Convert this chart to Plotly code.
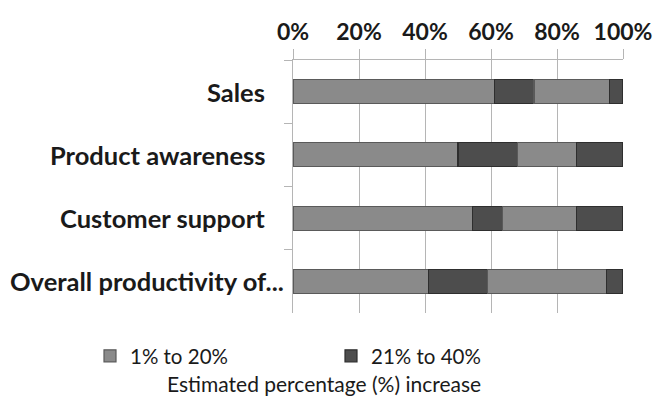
import plotly.graph_objects as go

categories = ["Sales", "Product awareness", "Customer support", "Overall productivity of..."]
series_names = ["1% to 20%", "21% to 40%", "41% to 60%", "61% to 80%"]
seg1 = [61, 50, 54.5, 41]
seg2 = [12, 18, 9, 18]
seg3 = [23, 18, 22.5, 36]
seg4 = [4, 14, 14, 5]
x_ticks = [0, 20, 40, 60, 80, 100]
x_tick_labels = ["0%", "20%", "40%", "60%", "80%", "100%"]
axis_title = "Estimated percentage (%) increase"

colors = ["#8a8a8a", "#4d4d4d", "#8a8a8a", "#4d4d4d"]
line_colors = ["#5a5a5a", "#2e2e2e", "#5a5a5a", "#2e2e2e"]
show = [True, True, False, False]

FONT = "Lato"
L, R, T, B = 293, 32, 60, 95
PW = 655 - L - R
PH = 408 - T - B

fig = go.Figure()
for name, vals, c, lc, s in zip(series_names, [seg1, seg2, seg3, seg4], colors, line_colors, show):
    fig.add_trace(go.Bar(
        y=categories, x=vals, name=name, orientation="h",
        marker=dict(color=c, line=dict(color=lc, width=1.2)),
        showlegend=s,
    ))

for cat in categories:
    right_px = 286 if cat.endswith("...") else 267
    fig.add_annotation(x=(right_px - L) / PW, xref="paper", y=cat, yref="y", text=cat,
                       showarrow=False, xanchor="right", yanchor="middle",
                       font=dict(family=FONT, size=25.5, color="#1a1a1a", weight="bold"))

fig.add_annotation(x=(324 - L) / PW, xref="paper", y=-(369 - (T + PH)) / PH, yref="paper",
                   text=axis_title, showarrow=False, xanchor="center", yanchor="top",
                   font=dict(family=FONT, size=21, color="#1a1a1a"))

fig.update_layout(
    width=655, height=408,
    barmode="stack", bargap=0.62,
    plot_bgcolor="white", paper_bgcolor="white",
    margin=dict(l=L, r=R, t=T, b=B, autoexpand=False),
    font=dict(family=FONT, color="#1a1a1a"),
    legend=dict(orientation="h", x=(90 - L) / PW, y=-(336 - (T + PH)) / PH,
                xanchor="left", yanchor="top",
                font=dict(family=FONT, size=20.5, color="#1a1a1a"),
                traceorder="normal", itemwidth=30, entrywidth=196, entrywidthmode="pixels"),
    xaxis=dict(side="top", range=[0, 100], tickvals=x_ticks, ticktext=x_tick_labels,
               showgrid=True, gridcolor="#b5b5b5", gridwidth=1.2,
               showline=True, linecolor="#b5b5b5", linewidth=1.2,
               ticks="outside", ticklen=10, tickcolor="#b5b5b5",
               tickfont=dict(family=FONT, size=23, color="#1a1a1a", weight="bold"),
               zeroline=False, fixedrange=True),
    yaxis=dict(autorange="reversed", showticklabels=False, showgrid=False,
               showline=True, linecolor="#b5b5b5", linewidth=1.2,
               ticks="outside", tickson="boundaries", ticklen=8, tickcolor="#b5b5b5",
               fixedrange=True),
)

fig.write_html("out.html", config={"displayModeBar": False},
               post_script="document.body.style.margin='0';")
